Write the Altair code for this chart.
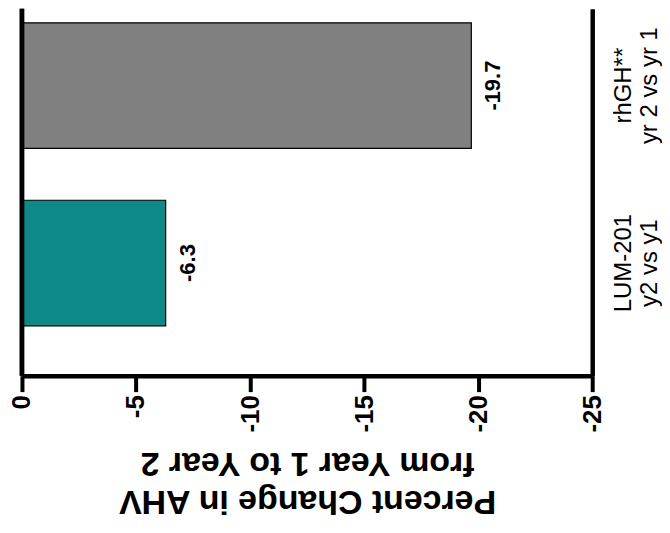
import altair as alt
import pandas as pd

categories = ["rhGH**\nyr 2 vs yr 1", "LUM-201\ny2 vs y1"]
values = [-19.7, -6.3]
value_labels = ["-19.7", "-6.3"]
colors = ["#808080", "#0D8A87"]
x_ticks = [0, -5, -10, -15, -20, -25]
x_title = ["Percent Change in AHV", "from Year 1 to Year 2"]

df = pd.DataFrame({"cat": categories, "value": values, "label": value_labels, "color": colors})

FONT = "Liberation Sans"

x_enc = alt.X(
    "value:Q",
    scale=alt.Scale(domain=[-25, 0], reverse=True, nice=False, zero=False),
    axis=alt.Axis(
        values=x_ticks,
        labelExpr="datum.value == 0 ? '0' : '-' + abs(datum.value)",
        labelAngle=270,
        labelFont=FONT,
        labelFontSize=26,
        labelFontWeight="bold",
        labelColor="black",
        labelPadding=3,
        domainColor="black",
        domainWidth=4.5,
        tickColor="black",
        tickWidth=4,
        tickSize=16,
        grid=False,
        title=x_title,
        titleFont=FONT,
        titleFontSize=34,
        titleFontWeight="bold",
        titleColor="black",
        titleAngle=180,
        titleBaseline="bottom",
        titleAlign="center",
        titleLineHeight=38,
        titleY=108,
        titleX=286,
    ),
)

y_enc = alt.Y(
    "cat:N",
    sort=categories,
    scale=alt.Scale(paddingInner=0.292, paddingOuter=0.18, align=0.22),
    axis=alt.Axis(
        orient="right",
        title=None,
        labelExpr="split(datum.label, '\\n')",
        labelAngle=270,
        labelAlign="center",
        labelBaseline="top",
        labelFont=FONT,
        labelFontSize=24,
        labelColor="black",
        labelLineHeight=26,
        labelPadding=19,
        ticks=False,
        domainColor="black",
        domainWidth=4.5,
        grid=False,
    ),
)

bars = alt.Chart(df).mark_bar(stroke="black", strokeWidth=1.2).encode(
    x=x_enc,
    y=y_enc,
    color=alt.Color("color:N", scale=None),
)

texts = alt.Chart(df).mark_text(
    angle=270, align="center", baseline="top", dy=12,
    font=FONT, fontSize=22, fontWeight="bold", color="black",
).encode(
    x=alt.X("value:Q"),
    y=alt.Y("cat:N", sort=categories),
    text="label:N",
)

zero_line = alt.Chart(df).mark_rule(color="black", strokeWidth=4.5).encode(
    x=alt.datum(0),
)

chart = alt.layer(bars, zero_line, texts).properties(
    width=572,
    height=368,
    padding={"left": 14, "top": 0, "right": 70, "bottom": 146},
    autosize=alt.AutoSizeParams(type="none"),
).configure_view(stroke=None)

chart.save("out.html", embed_options={"renderer": "svg", "actions": False})
